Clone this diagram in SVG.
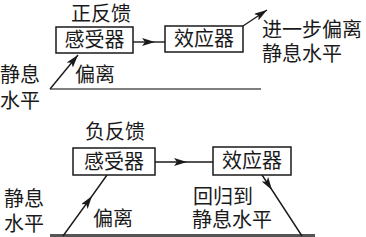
<svg xmlns="http://www.w3.org/2000/svg" width="366" height="237" viewBox="0 0 366 237">
<style>
text{font-family:"Noto Sans CJK SC","Noto Sans",sans-serif;font-size:20px;fill:#1a1a1a}
.box rect{fill:#fff;stroke:#1a1a1a;stroke-width:1.5}
.c{text-anchor:middle}
.ln{stroke:#1a1a1a;stroke-width:1.4;fill:none}
.base{stroke:#555;fill:none}
</style>
<defs>
<marker id="ah" viewBox="0 0 13 8" refX="13" refY="4" markerWidth="13" markerHeight="8" markerUnits="userSpaceOnUse" orient="auto">
<path d="M0,0 L13,4 L0,8 L3,4 z" fill="#1a1a1a"/>
</marker>
</defs>
<g id="labels">
<text x="71" y="21">正反馈</text>
<text x="262" y="37">进一步偏离</text>
<text x="262" y="61">静息水平</text>
<text x="0" y="82">静息</text>
<text x="0" y="108">水平</text>
<text x="75" y="82">偏离</text>
<text x="85" y="139">负反馈</text>
<text x="4" y="206">静息</text>
<text x="4" y="231">水平</text>
<text x="93" y="226">偏离</text>
<text x="193" y="204">回归到</text>
<text x="192" y="227">静息水平</text>
</g>
<g id="sensor1" class="box"><rect x="56" y="27" width="77" height="26"/><text class="c" x="94.5" y="47">感受器</text></g>
<g id="effector1" class="box"><rect x="165" y="26" width="78" height="26"/><text class="c" x="204" y="46">效应器</text></g>
<g id="sensor2" class="box"><rect x="73" y="148" width="82" height="27"/><text class="c" x="114" y="168.5">感受器</text></g>
<g id="effector2" class="box"><rect x="213" y="147" width="78" height="28"/><text class="c" x="252" y="168">效应器</text></g>
<g id="connectors">
<line class="base" x1="50" y1="89" x2="261" y2="89" stroke-width="1.5"/>
<line class="base" x1="50" y1="235.5" x2="315" y2="235.5" stroke-width="3"/>
<line class="ln" x1="50" y1="89" x2="78" y2="55" marker-end="url(#ah)"/>
<path class="ln" d="M133 42 L155 42 L165 42" marker-mid="url(#ah)"/>
<line class="ln" x1="243" y1="26" x2="267" y2="10" marker-end="url(#ah)"/>
<path class="ln" d="M155 162 L187 162 L213 162" marker-mid="url(#ah)"/>
<path class="ln" d="M63 236 L92 196 L107 175" marker-mid="url(#ah)"/>
<path class="ln" d="M262 175 L272 190 L302 236" marker-mid="url(#ah)"/>
</g>
</svg>
